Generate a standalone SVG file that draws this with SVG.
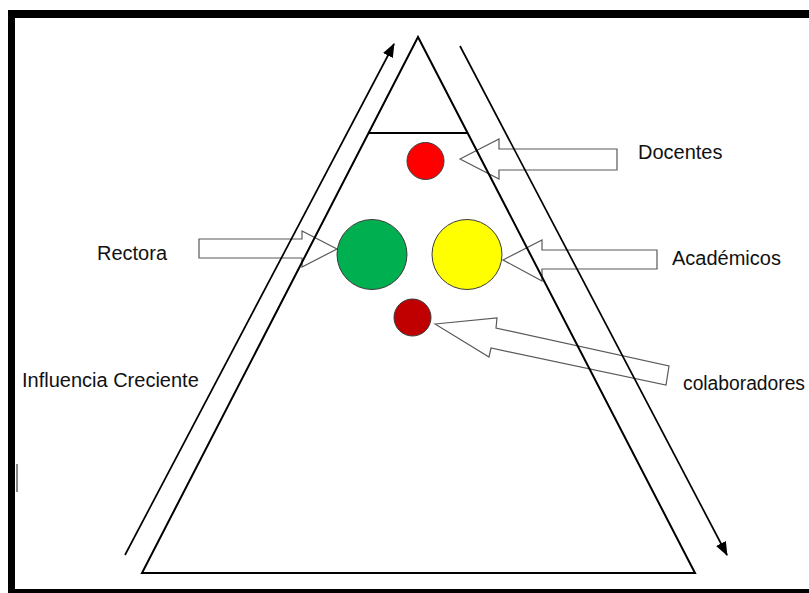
<svg xmlns="http://www.w3.org/2000/svg" width="809" height="593" viewBox="0 0 809 593">
  <defs>
    <style>
      .lbl { font-family: "Liberation Sans", Arial, sans-serif; font-size: 20px; fill: #111; }
      .blk { fill: #ffffff; stroke: #595959; stroke-width: 1.2; stroke-linejoin: miter; }
      .edge { fill: none; stroke: #000; stroke-width: 2; }
      .ln { fill: none; stroke: #000; stroke-width: 1.7; }
      .dot { stroke: #3a3a3a; stroke-width: 1; }
    </style>
    <marker id="ah" viewBox="0 0 14 11" refX="13" refY="5.5" markerWidth="14" markerHeight="11" markerUnits="userSpaceOnUse" orient="auto">
      <path d="M0,0 L14,5.5 L0,11 Z" fill="#000"/>
    </marker>
  </defs>
  <rect x="0" y="0" width="809" height="593" fill="#ffffff"/>
  <g id="frame">
    <rect x="8" y="10" width="801" height="8" fill="#000"/>
    <rect x="8" y="10" width="7" height="583" fill="#000"/>
    <rect x="8" y="589" width="801" height="4" fill="#000"/>
    <rect x="16" y="464" width="2" height="28" fill="#888"/>
  </g>
  <g id="connectors">
    <polygon class="blk" points="460,159 499,139 499,149 617,149 617,170 499,170 499,179"/>
    <polygon class="blk" points="199,239 302,239 302,231 337,249 302,267 302,258 199,258"/>
    <polygon class="blk" points="503,260 542,240 542,250 657,250 657,269 542,269 542,281"/>
    <polygon class="blk" points="435,324 497,318 496,328 669,366 666,385 491,348 489,357"/>
    <line class="ln" x1="125" y1="555" x2="394" y2="44" marker-end="url(#ah)"/>
    <line class="ln" x1="460" y1="46" x2="727" y2="555" marker-end="url(#ah)"/>
  </g>
  <g id="pyramid">
    <polygon class="edge" points="418,37 142,573 695,573"/>
    <line class="edge" x1="369" y1="133" x2="467" y2="133" stroke-width="1.5"/>
  </g>
  <g id="docentes-dot"><circle class="dot" cx="425.5" cy="161" r="18.5" fill="#ff0000"/></g>
  <g id="rectora-dot"><circle class="dot" cx="372" cy="254.5" r="35" fill="#00b050"/></g>
  <g id="academicos-dot"><circle class="dot" cx="467" cy="254.5" r="35" fill="#ffff00"/></g>
  <g id="colaboradores-dot"><circle class="dot" cx="412.5" cy="317.5" r="18.5" fill="#c00000"/></g>
  <g id="label-docentes"><text class="lbl" x="638" y="159">Docentes</text></g>
  <g id="label-rectora"><text class="lbl" x="97" y="260">Rectora</text></g>
  <g id="label-academicos"><text class="lbl" x="672" y="265">Académicos</text></g>
  <g id="label-colaboradores"><text class="lbl" x="683" y="390" textLength="122" lengthAdjust="spacingAndGlyphs">colaboradores</text></g>
  <g id="label-influencia"><text class="lbl" x="22" y="387">Influencia Creciente</text></g>
</svg>
